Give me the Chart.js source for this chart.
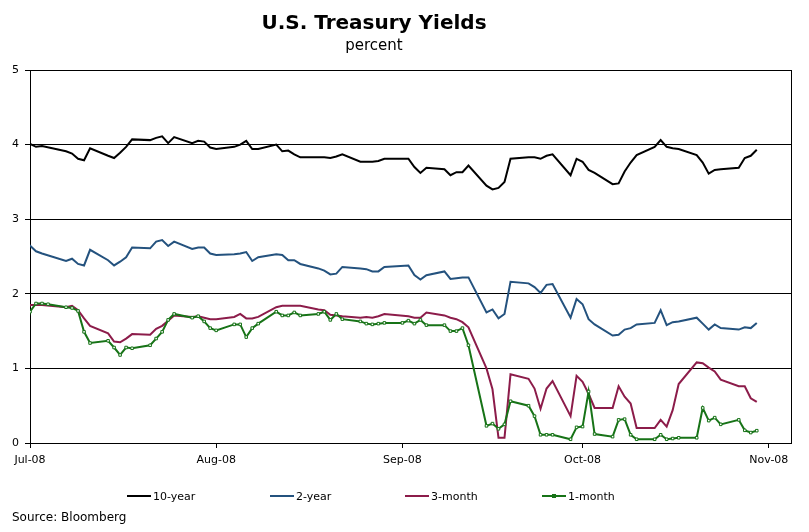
<!DOCTYPE html>
<html>
<head>
<meta charset="utf-8">
<script src="https://cdn.jsdelivr.net/npm/chart.js@4/dist/chart.umd.min.js"></script>
<style>
  html, body { margin: 0; padding: 0; background: #fff; }
  canvas { display: block; }
</style>
</head>
<body>
<canvas id="c" width="809" height="532"></canvas>
<script>
// ---- data ----
const dates = [
  "2008-06-30","2008-07-01","2008-07-02","2008-07-03","2008-07-04","2008-07-07","2008-07-08","2008-07-09","2008-07-10","2008-07-11",
  "2008-07-14","2008-07-15","2008-07-16","2008-07-17","2008-07-18","2008-07-21","2008-07-22","2008-07-23","2008-07-24","2008-07-25",
  "2008-07-28","2008-07-29","2008-07-30","2008-07-31","2008-08-01","2008-08-04","2008-08-05","2008-08-06","2008-08-07","2008-08-08",
  "2008-08-11","2008-08-12","2008-08-13","2008-08-14","2008-08-15","2008-08-18","2008-08-19","2008-08-20","2008-08-21","2008-08-22",
  "2008-08-25","2008-08-26","2008-08-27","2008-08-28","2008-08-29","2008-09-01","2008-09-02","2008-09-03","2008-09-04","2008-09-05",
  "2008-09-08","2008-09-09","2008-09-10","2008-09-11","2008-09-12","2008-09-15","2008-09-16","2008-09-17","2008-09-18","2008-09-19",
  "2008-09-22","2008-09-23","2008-09-24","2008-09-25","2008-09-26","2008-09-29","2008-09-30","2008-10-01","2008-10-02","2008-10-03",
  "2008-10-06","2008-10-07","2008-10-08","2008-10-09","2008-10-10","2008-10-13","2008-10-14","2008-10-15","2008-10-16","2008-10-17",
  "2008-10-20","2008-10-21","2008-10-22","2008-10-23","2008-10-24","2008-10-27","2008-10-28","2008-10-29","2008-10-30"
];
const tenYear = [
  3.98,4.01,3.97,3.98,null,3.91,3.88,3.81,3.79,3.95,
  3.85,3.82,3.89,3.97,4.07,4.06,4.09,4.11,4.02,4.10,
  4.02,4.05,4.04,3.96,3.94,3.97,4.00,4.05,3.94,3.94,
  4.00,3.91,3.92,3.87,3.83,3.83,3.83,3.82,3.84,3.87,
  3.77,3.77,3.77,3.78,3.81,null,3.81,3.70,3.62,3.69,
  3.67,3.59,3.63,3.63,3.72,3.45,3.40,3.42,3.50,3.81,
  3.83,3.83,3.81,3.85,3.87,3.59,3.81,3.77,3.66,3.62,
  3.47,3.48,3.64,3.76,3.86,3.97,4.06,3.97,3.95,3.94,
  3.86,3.76,3.61,3.66,3.67,3.69,3.82,3.85,3.93
];
const twoYear = [
  2.63,2.645,2.57,2.54,null,2.44,2.47,2.40,2.38,2.59,
  2.45,2.38,2.43,2.49,2.62,2.61,2.70,2.72,2.64,2.70,
  2.60,2.62,2.62,2.54,2.52,2.53,2.54,2.56,2.44,2.49,
  2.53,2.52,2.45,2.45,2.40,2.34,2.31,2.26,2.27,2.36,
  2.34,2.33,2.30,2.30,2.36,null,2.38,2.25,2.19,2.25,
  2.30,2.20,2.21,2.22,2.22,1.75,1.79,1.67,1.73,2.16,
  2.14,2.09,2.01,2.12,2.13,1.68,1.93,1.86,1.66,1.59,
  1.44,1.45,1.52,1.54,1.59,1.61,1.78,1.58,1.62,1.63,
  1.68,1.60,1.52,1.59,1.54,1.52,1.55,1.54,1.61
];
const threeMonth = [
  1.66,1.85,1.85,1.85,null,1.82,1.84,1.78,1.67,1.57,
  1.47,1.36,1.35,1.40,1.46,1.45,1.53,1.57,1.64,1.71,
  1.69,1.70,1.68,1.66,1.66,1.69,1.73,1.67,1.67,1.69,
  1.82,1.84,1.84,1.84,1.84,1.79,1.78,1.72,1.71,1.70,
  1.68,1.69,1.68,1.70,1.73,null,1.70,1.68,1.68,1.75,
  1.71,1.68,1.66,1.62,1.55,1.00,0.72,0.07,0.07,0.92,
  0.86,0.73,0.46,0.73,0.83,0.36,0.90,0.82,0.66,0.47,
  0.47,0.76,0.62,0.53,0.20,0.20,0.31,0.22,0.44,0.79,
  1.08,1.07,1.01,0.96,0.85,0.76,0.76,0.60,0.55
];
const oneMonth = [
  1.40,1.76,1.87,1.87,1.86,1.82,1.81,1.77,1.49,1.34,
  1.37,1.28,1.18,1.28,1.27,1.31,1.40,1.49,1.65,1.73,
  1.68,1.70,1.63,1.54,1.51,1.59,1.59,1.42,1.54,1.60,
  1.76,1.71,1.71,1.75,1.71,1.73,1.76,1.65,1.73,1.66,
  1.63,1.60,1.59,1.60,1.61,1.61,1.64,1.60,1.65,1.58,
  1.58,1.50,1.50,1.54,1.31,0.23,0.26,0.19,0.25,0.56,
  0.50,0.36,0.11,0.11,0.11,0.05,0.21,0.22,0.69,0.12,
  0.085,0.31,0.32,0.11,0.05,0.05,0.11,0.05,0.06,0.07,
  0.07,0.47,0.30,0.34,0.25,0.31,0.17,0.14,0.165
];
const seriesNames = ["10-year","2-year","3-month","1-month"];
const seriesColors = ["#000000","#24527e","#8c1c4a","#177317"];
const tickDates = ["2008-07-01","2008-08-01","2008-09-01","2008-10-01","2008-11-01"];
const tickLabels = ["Jul-08","Aug-08","Sep-08","Oct-08","Nov-08"];
const yTicks = [0,1,2,3,4,5];

// ---- helpers ----
const origin = Date.UTC(2008,6,1);
const dayOf = s => { const p = s.split("-").map(Number); return (Date.UTC(p[0],p[1]-1,p[2]) - origin) / 86400000; };
const xs = dates.map(dayOf);
const tickVals = tickDates.map(dayOf);
const pts = arr => xs.map((x,i) => ({x: x, y: arr[i]}));

const FONT = "'DejaVu Sans', Verdana, sans-serif";

const decor = {
  id: 'decor',
  beforeDatasetsDraw(chart) {
    const {ctx, chartArea: a} = chart;
    ctx.save();
    ctx.strokeStyle = '#000';
    ctx.lineWidth = 1;
    ctx.beginPath();
    ctx.moveTo(Math.round(a.right) + 0.5, a.top);
    ctx.lineTo(Math.round(a.right) + 0.5, a.bottom);
    ctx.stroke();
    ctx.restore();
  },
  afterDraw(chart) {
    const ctx = chart.ctx;
    ctx.save();
    ctx.fillStyle = '#000';
    ctx.textAlign = 'center';
    ctx.textBaseline = 'alphabetic';
    ctx.font = "bold 20px " + FONT;
    ctx.fillText("U.S. Treasury Yields", 374, 29);
    ctx.font = "15px " + FONT;
    ctx.fillText("percent", 374, 50);
    // legend
    const lx = [127, 270, 405, 542];
    const ly = 496;
    ctx.font = "11px " + FONT;
    ctx.textAlign = 'left';
    ctx.textBaseline = 'middle';
    chart.data.datasets.forEach((ds, i) => {
      ctx.strokeStyle = ds.borderColor;
      ctx.lineWidth = 2;
      ctx.beginPath();
      ctx.moveTo(lx[i], ly);
      ctx.lineTo(lx[i] + 24, ly);
      ctx.stroke();
      if (ds.pointRadius > 0) {
        ctx.fillStyle = ds.pointBorderColor;
        ctx.fillRect(lx[i] + 10, ly - 2, 4, 4);
      }
      ctx.fillStyle = '#000';
      ctx.fillText(ds.label, lx[i] + 26, ly + 1);
    });
    ctx.font = "12px " + FONT;
    ctx.fillText("Source: Bloomberg", 12, 518);
    ctx.restore();
  }
};

const mk = (i, arr, extra) => Object.assign({
  label: seriesNames[i],
  data: pts(arr),
  borderColor: seriesColors[i],
  backgroundColor: seriesColors[i],
  borderWidth: 2,
  pointRadius: 0,
  tension: 0,
  spanGaps: true,
  fill: false
}, extra || {});

new Chart(document.getElementById('c'), {
  type: 'line',
  data: {
    datasets: [
      mk(0, tenYear, {order: 3}),
      mk(1, twoYear, {order: 2}),
      mk(2, threeMonth, {order: 1}),
      mk(3, oneMonth, {order: 0, pointRadius: 1.8, pointStyle: 'rect', pointBorderWidth: 1,
        pointBorderColor: seriesColors[3], pointBackgroundColor: '#ffffff'})
    ]
  },
  options: {
    responsive: false,
    animation: false,
    devicePixelRatio: 1,
    layout: { padding: { left: 0, right: 18, top: 70, bottom: 60 } },
    plugins: { legend: { display: false }, title: { display: false }, tooltip: { enabled: false } },
    scales: {
      x: {
        type: 'linear',
        min: 0,
        max: 126.7,
        afterBuildTicks: s => { s.ticks = tickVals.map(v => ({value: v})); },
        afterFit: s => { s.height = 29; },
        ticks: {
          autoSkip: false,
          maxRotation: 0,
          padding: 6,
          color: '#000',
          font: { family: FONT, size: 11 },
          callback: (v, i) => tickLabels[i]
        },
        grid: { display: true, drawOnChartArea: false, drawTicks: true, tickLength: 5, color: '#000' },
        border: { display: true, color: '#000', width: 1 }
      },
      y: {
        min: 0,
        max: 5,
        afterBuildTicks: s => { s.ticks = yTicks.map(v => ({value: v})); },
        afterFit: s => { s.width = 30; },
        ticks: { padding: 6, color: '#000', font: { family: FONT, size: 11 } },
        grid: { color: '#000', lineWidth: 1, tickLength: 5, drawTicks: true },
        border: { display: true, color: '#000', width: 1 }
      }
    }
  },
  plugins: [decor]
});
</script>
</body>
</html>
